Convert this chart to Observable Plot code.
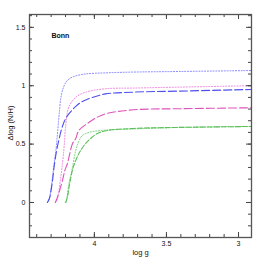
<!DOCTYPE html>
<html><head><meta charset="utf-8">
<script src="https://cdn.jsdelivr.net/npm/d3@7"></script>
<script src="https://cdn.jsdelivr.net/npm/@observablehq/plot@0.6"></script>
<style>body{margin:0;background:#fff;font-family:"Liberation Sans",Arial,sans-serif}</style>
</head><body><div id="chart"></div>
<script>
// log g (decreasing) and Δlog(N/H) for each model track
const blueDotLogg  = [4.325,4.312,4.295,4.281,4.267,4.254,4.243,4.233,4.219,4.198,4.17,4.129,4.06,3.922,3.728,3.404,2.91];
const blueDotVal   = [0,0.034,0.171,0.317,0.446,0.617,0.771,0.891,0.969,1.028,1.063,1.084,1.101,1.11,1.117,1.122,1.13];
const blueDashLogg = [4.326,4.312,4.292,4.278,4.264,4.247,4.23,4.209,4.185,4.157,4.129,4.095,4.06,3.991,3.922,3.728,3.404,2.91];
const blueDashVal  = [0,0.034,0.171,0.317,0.429,0.531,0.617,0.694,0.746,0.788,0.823,0.857,0.878,0.908,0.93,0.945,0.954,0.968];
const pinkDotLogg  = [4.271,4.26,4.236,4.219,4.209,4.202,4.195,4.176,4.129,4.06,3.922,3.728,3.404,2.91];
const pinkDotVal   = [0,0.017,0.19,0.36,0.49,0.617,0.70,0.82,0.90,0.945,0.974,0.98,0.988,1.0];
const magDashLogg  = [4.271,4.256,4.221,4.205,4.187,4.152,4.129,4.108,4.048,3.979,3.91,3.728,3.404,2.91];
const magDashVal   = [0,0.045,0.19,0.274,0.334,0.503,0.548,0.617,0.677,0.731,0.763,0.794,0.803,0.811];
const greenDotLogg = [4.202,4.195,4.176,4.152,4.129,4.106,4.083,4.037,3.945,3.728,3.404,2.91];
const greenDotVal  = [0,0.017,0.163,0.30,0.446,0.53,0.574,0.60,0.617,0.63,0.643,0.651];
const greenDashLogg= [4.198,4.187,4.171,4.147,4.115,4.095,4.06,4.026,3.979,3.91,3.728,3.404,2.91];
const greenDashVal = [0,0.045,0.163,0.30,0.40,0.446,0.506,0.548,0.591,0.617,0.634,0.643,0.651];

const xMajor = [4, 3.5, 3];
const xMinor = [4.4,4.3,4.2,4.1,4.0,3.9,3.8,3.7,3.6,3.5,3.4,3.3,3.2,3.1,3.0];
const yMajor = [0, 0.5, 1, 1.5];
const yMinor = [-0.2,-0.1,0,0.1,0.2,0.3,0.4,0.5,0.6,0.7,0.8,0.9,1.0,1.1,1.2,1.3,1.4,1.5,1.6];

const xDomain = [4.45, 2.91];
const yDomain = [-0.3, 1.61];

const series = [
  {logg: blueDotLogg,  val: blueDotVal,  stroke: "#8080ff", dash: "1,1.8", w: 1},
  {logg: pinkDotLogg,  val: pinkDotVal,  stroke: "#ee80dc", dash: "1,1.8", w: 1},
  {logg: blueDashLogg, val: blueDashVal, stroke: "#4e4eee", dash: "8,3", w: 1.1},
  {logg: magDashLogg,  val: magDashVal,  stroke: "#dd55bb", dash: "8,3", w: 1.1},
  {logg: greenDotLogg, val: greenDotVal, stroke: "#70d070", dash: "1,1.8", w: 1},
  {logg: greenDashLogg,val: greenDashVal,stroke: "#5cbf5c", dash: "5,2", w: 1.1}
];

const W = 266, H = 266, mt = 14, mr = 15, mb = 29, ml = 29;
const pxPerY = (H - mt - mb) / (yDomain[1] - yDomain[0]);
const pxPerX = (W - ml - mr) / (xDomain[0] - xDomain[1]);
const majLen = 5, minLen = 3;

const lineMarks = series.map(s => Plot.line(s.logg.map((g, i) => ({g, v: s.val[i]})), {
  x: "g", y: "v", stroke: s.stroke, strokeWidth: s.w, strokeDasharray: s.dash, curve: "catmull-rom"
}));

const tickStroke = "#444";
const xt = (arr, len) => [
  Plot.ruleX(arr, {x: d => d, y1: yDomain[0], y2: yDomain[0] + len / pxPerY, stroke: tickStroke, strokeWidth: 1}),
  Plot.ruleX(arr, {x: d => d, y1: yDomain[1], y2: yDomain[1] - len / pxPerY, stroke: tickStroke, strokeWidth: 1})
];
const yt = (arr, len) => [
  Plot.ruleY(arr, {y: d => d, x1: xDomain[0], x2: xDomain[0] - len / pxPerX, stroke: tickStroke, strokeWidth: 1}),
  Plot.ruleY(arr, {y: d => d, x1: xDomain[1], x2: xDomain[1] + len / pxPerX, stroke: tickStroke, strokeWidth: 1})
];

const chart = Plot.plot({
  width: W, height: H,
  marginTop: mt, marginRight: mr, marginBottom: mb, marginLeft: ml,
  style: {fontFamily: '"Liberation Sans", Arial, sans-serif', background: "#fff"},
  x: {domain: xDomain},
  y: {domain: yDomain},
  marks: [
    ...lineMarks,
    ...xt(xMinor, minLen), ...xt(xMajor, majLen),
    ...yt(yMinor, minLen), ...yt(yMajor, majLen),
    Plot.frame({stroke: "#555", strokeWidth: 1.3}),
    Plot.axisX({ticks: xMajor, tickSize: 0, tickPadding: 4, tickFormat: d => String(d), fontSize: 7, label: null, fill: "#111"}),
    Plot.axisY({ticks: yMajor, tickSize: 0, tickPadding: 4, tickFormat: d => String(d), fontSize: 7, label: null, fill: "#111"}),
    Plot.text(["log g"], {frameAnchor: "bottom", dy: 15, lineAnchor: "middle", text: d => d, fontSize: 7.5, fill: "#111"}),
    Plot.text(["Δlog (N/H)"], {frameAnchor: "left", dx: -19, dy: -3, rotate: -90, textAnchor: "middle", lineAnchor: "middle", text: d => d, fontSize: 7.5, fill: "#111"}),
    Plot.text(["Bonn"], {frameAnchor: "top-left", dx: 22, dy: 21, textAnchor: "start", lineAnchor: "middle", text: d => d, fontSize: 7, fontWeight: "bold", fill: "#111"})
  ]
});
document.getElementById("chart").appendChild(chart);
</script>
</body></html>
